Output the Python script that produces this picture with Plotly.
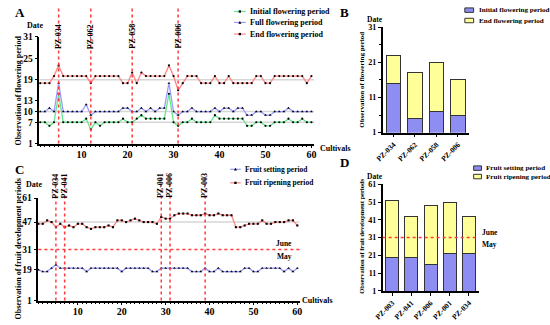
import plotly.graph_objects as go

W, H = 550, 325
def px(x): return x / W
def py(y): return 1 - y / H

FONT = "Liberation Serif"

# ---------------- data ----------------
cultivars = list(range(1, 61))

initial_flowering = [7, 7, 6, 7, 15, 7, 7, 7, 7, 7, 8, 5, 7, 6, 7, 7, 7, 7, 8, 7,
                     7, 8, 9, 8, 8, 8, 8, 8, 15, 7, 6, 7, 7, 8, 7, 7, 7, 7, 9, 8,
                     8, 8, 8, 8, 8, 6, 6, 7, 7, 6, 6, 7, 7, 7, 8, 7, 7, 8, 7, 7]
full_flowering = [10, 10, 11, 10, 18, 10, 10, 10, 10, 10, 12, 9, 10, 10, 10, 10, 10, 10, 11, 11,
                  10, 10, 11, 10, 11, 10, 11, 11, 18, 10, 9, 10, 10, 11, 10, 10, 10, 10, 11, 10,
                  11, 11, 10, 11, 11, 9, 9, 10, 10, 9, 9, 10, 10, 10, 11, 10, 10, 10, 10, 10]
end_flowering = [18, 18, 18, 20, 23, 20, 20, 20, 20, 20, 20, 18, 20, 20, 20, 20, 20, 20, 18, 18,
                 21, 18, 21, 20, 20, 20, 20, 20, 23, 20, 16, 18, 20, 20, 20, 18, 18, 18, 20, 18,
                 18, 20, 18, 18, 18, 18, 18, 20, 20, 18, 18, 20, 20, 20, 20, 20, 20, 20, 18, 20]

fruit_setting = [19, 18, 18, 20, 22, 20, 20, 20, 20, 20, 20, 18, 20, 20, 20, 20, 20, 20, 20, 18,
                 20, 20, 20, 20, 20, 20, 18, 18, 20, 20, 20, 20, 20, 20, 20, 18, 18, 18, 20, 18,
                 18, 20, 18, 18, 18, 18, 18, 20, 20, 18, 18, 20, 20, 20, 20, 20, 18, 20, 18, 20]
fruit_ripening = [46, 46, 48, 47, 44, 46, 44, 45, 44, 46, 46, 44, 43, 44, 44, 44, 45, 44, 48, 48,
                  47, 48, 49, 48, 47, 47, 47, 46, 50, 49, 49, 51, 52, 52, 52, 51, 51, 51, 52, 51,
                  51, 52, 51, 51, 51, 44, 44, 45, 46, 46, 46, 48, 46, 46, 47, 47, 47, 48, 48, 45]

flower_marked = [5, 12, 21, 31]
flower_marked_names = ["PZ-034", "PZ-062", "PZ-058", "PZ-006"]
fruit_marked = [5, 7, 29, 31, 39]
fruit_marked_names = ["PZ-034", "PZ-041", "PZ-001", "PZ-006", "PZ-003"]

bar_b_cats = ["PZ-034", "PZ-062", "PZ-058", "PZ-006"]
bar_b_initial = [15, 5, 7, 6]
bar_b_end = [23, 18, 21, 16]

bar_d_cats = ["PZ-003", "PZ-041", "PZ-006", "PZ-001", "PZ-034"]
bar_d_setting = [20, 20, 16, 22, 22]
bar_d_ripening = [52, 43, 49, 51, 43]

a_yticks = [1, 7, 10, 13, 19, 25, 31]
a_ref = [19, 10, 7]
c_yticks = [1, 19, 31, 47, 61]
c_ref = [47]
x_ticks = [10, 20, 30, 40, 50, 60]

# ---------------- styles ----------------
GREEN = "#66e68c"
BLUE = "#9a9aff"
RED = "#ff8585"
BAR_BLUE = "#8d8df2"
BAR_YEL = "#ffff99"
DASH_RED = "#ff3b3b"

fig = go.Figure()

def line_trace(x, y, color, sym, xa, ya, size=3):
    return go.Scatter(x=x, y=y, mode="lines+markers", xaxis=xa, yaxis=ya,
                      line=dict(color=color, width=1.3),
                      marker=dict(color="black", size=size, symbol=sym),
                      cliponaxis=False, showlegend=False)

fig.add_trace(line_trace(cultivars, end_flowering, RED, "circle", "x", "y", 2.2))
fig.add_trace(line_trace(cultivars, full_flowering, BLUE, "triangle-up", "x", "y", 2.6))
fig.add_trace(line_trace(cultivars, initial_flowering, GREEN, "circle", "x", "y", 2.2))

fig.add_trace(line_trace(cultivars, fruit_ripening, RED, "square", "x3", "y3", 2.1))
fig.add_trace(line_trace(cultivars, fruit_setting, BLUE, "triangle-up", "x3", "y3", 2.6))

bar_line = dict(color="#333333", width=1)
fig.add_trace(go.Bar(x=bar_b_cats, y=bar_b_initial, xaxis="x2", yaxis="y2",
                     marker=dict(color=BAR_BLUE, line=bar_line), width=0.68, showlegend=False))
fig.add_trace(go.Bar(x=bar_b_cats, y=[e - i for e, i in zip(bar_b_end, bar_b_initial)],
                     xaxis="x2", yaxis="y2",
                     marker=dict(color=BAR_YEL, line=bar_line), width=0.68, showlegend=False))
fig.add_trace(go.Bar(x=bar_d_cats, y=bar_d_setting, xaxis="x4", yaxis="y4",
                     marker=dict(color=BAR_BLUE, line=bar_line), width=0.68, showlegend=False))
fig.add_trace(go.Bar(x=bar_d_cats, y=[r - s for r, s in zip(bar_d_ripening, bar_d_setting)],
                     xaxis="x4", yaxis="y4",
                     marker=dict(color=BAR_YEL, line=bar_line), width=0.68, showlegend=False))

tickfont = dict(family=FONT, size=10, color="black", weight="bold")
axis_common = dict(showline=True, linecolor="black", linewidth=1.5, ticks="outside",
                   tickcolor="black", tickwidth=1.3, ticklen=3, showgrid=False,
                   zeroline=False, tickfont=tickfont, fixedrange=True)
ya_common = {**axis_common, "tickfont": dict(family=FONT, size=9.5, color="black", weight="bold")}
small_y = {**axis_common, "tickfont": dict(family=FONT, size=8, color="black", weight="bold")}
small_x = {**axis_common, "tickfont": dict(family=FONT, size=7.5, color="black", weight="bold")}

fig.update_layout(
    width=W, height=H, margin=dict(l=0, r=0, t=0, b=0), autosize=False,
    paper_bgcolor="white", plot_bgcolor="rgba(0,0,0,0)", barmode="stack",
    font=dict(family=FONT, color="black"),
    xaxis=dict(domain=[px(31), px(312)], anchor="y", range=[0.8, 60.6],
               tickvals=x_ticks, ticklabelstandoff=-2,
               minor=dict(dtick=1, tick0=0, ticklen=2, ticks="outside",
                          tickcolor="black", tickwidth=1),
               **axis_common),
    yaxis=dict(domain=[py(143), py(33)], anchor="x", range=[1, 31], tickvals=a_yticks,
               **ya_common),
    xaxis2=dict(domain=[px(382), px(470)], anchor="y2", tickangle=-45, **small_x),
    yaxis2=dict(domain=[py(131.7), py(23)], anchor="x2", range=[1, 31], tickvals=[1, 11, 21, 31],
                minor=dict(dtick=5, tick0=1, ticklen=2, ticks="outside", tickcolor="black"),
                **small_y),
    xaxis3=dict(domain=[px(30), px(297)], anchor="y3", range=[1, 60.5],
                tickvals=x_ticks, ticklabelstandoff=-2,
                minor=dict(dtick=1, tick0=0, ticklen=2, ticks="outside",
                           tickcolor="black", tickwidth=1),
                **axis_common),
    yaxis3=dict(domain=[py(305), py(199.3)], anchor="x3", range=[1, 61], tickvals=c_yticks,
                **ya_common),
    xaxis4=dict(domain=[px(382), px(480)], anchor="y4", tickangle=-45, **small_x),
    yaxis4=dict(domain=[py(295), py(185)], anchor="x4", range=[1, 61],
                tickvals=[1, 11, 21, 31, 41, 51, 61], **small_y),
)

shapes = []
for v in a_ref:
    shapes.append(dict(type="line", xref="x domain", yref="y", x0=0, x1=1, y0=v, y1=v,
                       line=dict(color="#d6d6d6", width=1.5), layer="below"))
for v in c_ref:
    shapes.append(dict(type="line", xref="x3 domain", yref="y3", x0=0, x1=1, y0=v, y1=v,
                       line=dict(color="#d6d6d6", width=1.5), layer="below"))
for c in flower_marked:
    shapes.append(dict(type="line", xref="x", yref="paper", x0=c, x1=c, y0=py(143), y1=py(3),
                       line=dict(color=DASH_RED, width=1.5, dash="dot")))
for c in fruit_marked:
    shapes.append(dict(type="line", xref="x3", yref="paper", x0=c, x1=c, y0=py(305), y1=py(176),
                       line=dict(color=DASH_RED, width=1.5, dash="dot")))
shapes.append(dict(type="line", xref="x3 domain", yref="y3", x0=0, x1=1, y0=31, y1=31,
                   line=dict(color=DASH_RED, width=1.5, dash="dot")))
shapes.append(dict(type="line", xref="paper", yref="y4", x0=px(382), x1=px(480), y0=31, y1=31,
                   line=dict(color=DASH_RED, width=1.5, dash="dot")))

ann = []
def text(x, y, s, size=8, xanchor="center", yanchor="middle", angle=0, color="black"):
    ann.append(dict(x=px(x), y=py(y), xref="paper", yref="paper", text="<b>" + s + "</b>",
                    showarrow=False, xanchor=xanchor, yanchor=yanchor, textangle=angle,
                    font=dict(family=FONT, size=size, color=color)))

for c, n in zip(flower_marked, flower_marked_names):
    ann.append(dict(x=c, y=py(17.5), xref="x", yref="paper", text="<b>" + n + "</b>",
                    showarrow=False, textangle=-90, font=dict(family=FONT, size=8, color="black")))
for c, n in zip(fruit_marked, fruit_marked_names):
    ann.append(dict(x=c, y=py(186.5), xref="x3", yref="paper", text="<b>" + n + "</b>",
                    showarrow=False, textangle=-90, font=dict(family=FONT, size=8, color="black")))

text(11, 8, "A", 13)
text(343, 8, "B", 13)
text(11, 170, "C", 13)
text(343, 163, "D", 13)

text(27, 21.5, "Date", 8)
text(374, 15, "Date", 7.5)
text(26, 185, "Date", 8)
text(374, 177, "Date", 7.5)

text(9.5, 88, "Observation of flowering period", 8, angle=-90)
text(361, 77, "Observation of flowering period", 7, angle=-90)
text(9.5, 252, "Observation of fruit development periods", 8, angle=-90)
text(361, 239, "Observation of fruit development periods", 6.5, angle=-90)

text(316, 148, "Cultivals", 8, xanchor="left")
text(298, 305, "Cultivals", 8, xanchor="left")

text(291, 246, "June", 7.5, xanchor="right")
text(291, 259.5, "May", 7.5, xanchor="right")
text(482, 235, "June", 7.5, xanchor="left")
text(482, 247.5, "May", 7.5, xanchor="left")

def leg_line(x0, x1, y, color, sym):
    shapes.append(dict(type="line", xref="paper", yref="paper", x0=px(x0), x1=px(x1),
                       y0=py(y), y1=py(y), line=dict(color=color, width=1.2)))
    m = (x0 + x1) / 2
    if sym == "tri":
        shapes.append(dict(type="path", xref="paper", yref="paper",
                           path=f"M{px(m-1.6)},{py(y+1.3)} L{px(m+1.6)},{py(y+1.3)} L{px(m)},{py(y-1.6)} Z",
                           fillcolor="black", line=dict(width=0)))
    else:
        shapes.append(dict(type="rect", xref="paper", yref="paper", x0=px(m-1.2), x1=px(m+1.2),
                           y0=py(y+1.2), y1=py(y-1.2), fillcolor="black", line=dict(width=0)))

def leg_box(x0, x1, y, color):
    shapes.append(dict(type="rect", xref="paper", yref="paper", x0=px(x0), x1=px(x1),
                       y0=py(y + 2.3), y1=py(y - 2.3), fillcolor=color,
                       line=dict(color="#333333", width=1)))

leg_line(230, 242, 6.7, GREEN, "dot")
leg_line(230, 242, 18, BLUE, "tri")
leg_line(230, 242, 30, RED, "dot")
text(244, 6.7, "Initial flowering period", 8, xanchor="left")
text(244, 18, "Full flowering period", 8, xanchor="left")
text(244, 30, "End flowering period", 8, xanchor="left")

leg_box(466, 475, 5.3, BAR_BLUE)
leg_box(466, 475, 16, BAR_YEL)
text(478, 5.3, "Initial flowering period", 7.1, xanchor="left")
text(478, 16, "End flowering period", 7.1, xanchor="left")

leg_line(226, 237, 169.5, BLUE, "tri")
leg_line(226, 237, 183.5, RED, "sq")
text(239, 169.5, "Fruit setting period", 7.5, xanchor="left")
text(239, 183.5, "Fruit ripening period", 7.5, xanchor="left")

leg_box(475, 483, 168.3, BAR_BLUE)
leg_box(475, 483, 177, BAR_YEL)
text(486, 168.3, "Fruit setting period", 7.1, xanchor="left")
text(486, 177, "Fruit ripening period", 7.1, xanchor="left")

fig.update_layout(shapes=shapes, annotations=ann)
fig.write_html("out.html", config={"displayModeBar": False},
               post_script="document.body.style.margin='0px';document.body.style.overflow='hidden';")
